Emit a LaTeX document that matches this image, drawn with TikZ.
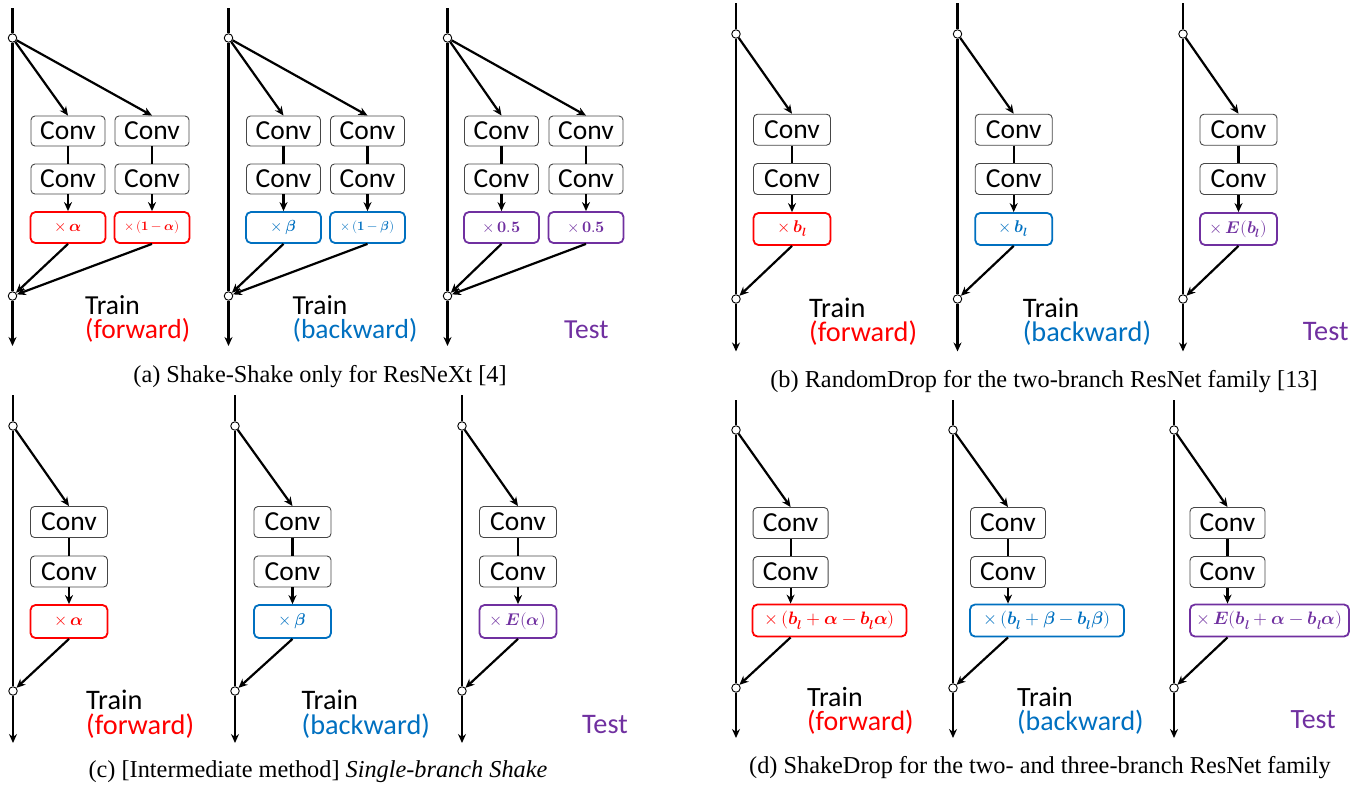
\documentclass[tikz,border=0pt]{standalone}
\usepackage{fontspec}
\usepackage{unicode-math}
\setmainfont{Liberation Serif}
\setmathfont{Latin Modern Math}
\newfontfamily\carlito{Carlito}
\usetikzlibrary{arrows.meta}
\definecolor{cred}{RGB}{255,0,0}
\definecolor{cblue}{RGB}{0,112,192}
\definecolor{cpurple}{RGB}{112,48,160}
\definecolor{cgray}{RGB}{70,70,70}
\newcommand{\myBl}{\symbfit{b}_{\symbfit{l}}}
\newcommand{\resline}[6]{%
  \node[junc] (#1in) at (#2,#4) {};
  \node[junc] (#1out) at (#2,#5) {};
  \coordinate (#1top) at (#2,#3);
  \coordinate (#1bot) at (#2,#6);
  \draw[mainln] (#1top) -- (#1in);
  \draw[mainln] (#1in) -- (#1out);
  \draw[mainln,arr] (#1out) -- (#1bot);
}
\newcommand{\branch}[9]{%
  \node[conv] (#1a) at (#2,#3) {Conv};
  \node[conv] (#1b) at (#2,#4) {Conv};
  \node[#7] (#1m) at (#5,#6) {#8};
  \draw[conn,arr] (#9in) -- (#1a.north);
  \draw[conn] (#1a) -- (#1b);
  \draw[conn,arr] (#1b) -- (#1b |- #1m.north);
  \draw[conn,arr] (#1b |- #1m.south) -- (#9out);
}
\tikzset{
  junc/.style={circle, draw, fill=white, line width=0.9pt, minimum size=8.5pt, inner sep=0pt},
  mainln/.style={line width=2.7pt},
  conn/.style={line width=2.2pt},
  arr/.style={-{Stealth[length=9pt,width=8pt]}},
  convsize/.style={minimum width=74pt, minimum height=30pt},
  conv/.style={draw=cgray, rounded corners=4pt, line width=0.9pt, inner sep=0pt, convsize, font=\carlito\fontsize{27.5}{29}\selectfont},
  multsize/.style={minimum width=75pt, minimum height=31pt},
  mult/.style={draw=#1, text=#1, rounded corners=5pt, line width=1.8pt, inner sep=0pt, multsize, font=\fontsize{16}{18}\selectfont},
  lbl/.style={anchor=base west, inner sep=0pt},
  captxt/.style={inner sep=0pt, font=\fontsize{24.3}{26}\selectfont}
}
\begin{document}
\begin{tikzpicture}[x=1pt,y=-1pt]
\useasboundingbox (0,0) rectangle (1365,788);

% ---------------- (a) ----------------
\resline{aA}{12.5}{8}{38}{296}{346}
\resline{aB}{228.5}{8}{38}{296}{346}
\resline{aC}{447.5}{8}{38}{296}{346}
\branch{aA1}{68}{131}{179}{68}{227.5}{mult=cred}{$\times\,\symbfit{\alpha}$}{aA}
\branch{aA2}{152}{131}{179}{152}{227.5}{mult=cred,font=\fontsize{13}{15}\selectfont}{$\times\,(\symbf{1}-\symbfit{\alpha})$}{aA}
\branch{aB1}{283.5}{131}{179}{283.5}{227.5}{mult=cblue}{$\times\,\symbfit{\beta}$}{aB}
\branch{aB2}{367.5}{131}{179}{367.5}{227.5}{mult=cblue,font=\fontsize{13}{15}\selectfont}{$\times\,(\symbf{1}-\symbfit{\beta})$}{aB}
\branch{aC1}{501.5}{131}{179}{501.5}{227.5}{mult=cpurple}{$\times\,\symbf{0.5}$}{aC}
\branch{aC2}{586}{131}{179}{586}{227.5}{mult=cpurple}{$\times\,\symbf{0.5}$}{aC}
\node[lbl, font=\carlito\fontsize{27.5}{29}\selectfont] (aAt) at (85,314) {Train};
\node[lbl, font=\carlito\fontsize{27.5}{29}\selectfont, text=cred] (aAf) at (85,338) {(forward)};
\node[lbl, font=\carlito\fontsize{27.5}{29}\selectfont] (aBt) at (292.5,314) {Train};
\node[lbl, font=\carlito\fontsize{27.5}{29}\selectfont, text=cblue] (aBf) at (292.5,338) {(backward)};
\node[lbl, font=\carlito\fontsize{27.5}{29}\selectfont, text=cpurple] (aCf) at (564,338) {Test};
\node[captxt] (capa) at (320,377) {(a) Shake-Shake only for ResNeXt [4]};

% ---------------- (b) ----------------
\begin{scope}[convsize/.style={minimum width=77pt, minimum height=31pt}, multsize/.style={minimum width=77pt, minimum height=32pt}]
\resline{bA}{736}{3}{34}{299}{351.5}
\resline{bB}{957.5}{3}{34}{299}{351.5}
\resline{bC}{1183}{3}{34}{299}{351.5}
\branch{bA1}{792}{129.7}{179}{792}{229}{mult=cred,font=\fontsize{17}{19}\selectfont}{$\times\,\myBl$}{bA}
\branch{bB1}{1013.7}{129.7}{179}{1013.7}{229}{mult=cblue,font=\fontsize{17}{19}\selectfont}{$\times\,\myBl$}{bB}
\branch{bC1}{1238.5}{129.7}{179}{1238.5}{229}{mult=cpurple,font=\fontsize{17}{19}\selectfont}{$\times\,\symbfit{E}(\myBl)$}{bC}
\end{scope}
\node[lbl, font=\carlito\fontsize{28.3}{30}\selectfont] (bAt) at (809,317.5) {Train};
\node[lbl, font=\carlito\fontsize{28.3}{30}\selectfont, text=cred] (bAf) at (809,341.5) {(forward)};
\node[lbl, font=\carlito\fontsize{28.3}{30}\selectfont] (bBt) at (1022.7,317.5) {Train};
\node[lbl, font=\carlito\fontsize{28.3}{30}\selectfont, text=cblue] (bBf) at (1022.7,341.5) {(backward)};
\node[lbl, font=\carlito\fontsize{28.3}{30}\selectfont, text=cpurple] (bCf) at (1302.7,340.5) {Test};
\node[captxt] (capb) at (1044,382) {(b) RandomDrop for the two-branch ResNet family [13]};

% ---------------- (c) ----------------
\begin{scope}[convsize/.style={minimum width=77pt, minimum height=31pt}, multsize/.style={minimum width=77pt, minimum height=33pt}]
\resline{cA}{13}{395}{426}{691}{743}
\resline{cB}{235}{395}{426}{691}{743}
\resline{cC}{462}{395}{426}{691}{743}
\branch{cA1}{69}{522}{571.5}{69}{621.5}{mult=cred,font=\fontsize{17}{19}\selectfont}{$\times\,\symbfit{\alpha}$}{cA}
\branch{cB1}{292.5}{522}{571.5}{292.5}{621.5}{mult=cblue,font=\fontsize{17}{19}\selectfont}{$\times\,\symbfit{\beta}$}{cB}
\branch{cC1}{518}{522}{571.5}{518}{621.5}{mult=cpurple,font=\fontsize{17}{19}\selectfont}{$\times\,\symbfit{E}(\symbfit{\alpha})$}{cC}
\end{scope}
\node[lbl, font=\carlito\fontsize{28.3}{30}\selectfont] (cAt) at (86,709) {Train};
\node[lbl, font=\carlito\fontsize{28.3}{30}\selectfont, text=cred] (cAf) at (86,734) {(forward)};
\node[lbl, font=\carlito\fontsize{28.3}{30}\selectfont] (cBt) at (301.5,709) {Train};
\node[lbl, font=\carlito\fontsize{28.3}{30}\selectfont, text=cblue] (cBf) at (301.5,734) {(backward)};
\node[lbl, font=\carlito\fontsize{28.3}{30}\selectfont, text=cpurple] (cCf) at (582,733) {Test};
\node[captxt] (capc) at (318,772) {(c) [Intermediate method] \textit{Single-branch Shake}};

% ---------------- (d) ----------------
\begin{scope}[convsize/.style={minimum width=75pt, minimum height=31pt}, multsize/.style={minimum width=77pt, minimum height=32pt}]
\resline{dA}{736}{400}{430}{688}{738}
\resline{dB}{953}{400}{430}{688}{738}
\resline{dC}{1174}{400}{430}{688}{738}
\branch{dA1}{790.6}{523}{572}{829.5}{620.5}{mult=cred,minimum width=154pt,font=\fontsize{18}{20}\selectfont}{$\times\,(\myBl+\symbfit{\alpha}\symbf{-}\myBl\symbfit{\alpha})$}{dA}
\branch{dB1}{1008}{523}{572}{1047}{620.5}{mult=cblue,minimum width=154pt,font=\fontsize{18}{20}\selectfont}{$\times\,(\myBl+\symbfit{\beta}\symbf{-}\myBl\symbfit{\beta})$}{dB}
\branch{dC1}{1227.5}{523}{572}{1269.5}{620.5}{mult=cpurple,minimum width=159pt,font=\fontsize{18}{20}\selectfont}{$\times\,\symbfit{E}(\myBl+\symbfit{\alpha}\symbf{-}\myBl\symbfit{\alpha})$}{dC}
\end{scope}
\node[lbl, font=\carlito\fontsize{27.9}{30}\selectfont] (dAt) at (807,706) {Train};
\node[lbl, font=\carlito\fontsize{27.9}{30}\selectfont, text=cred] (dAf) at (807,730) {(forward)};
\node[lbl, font=\carlito\fontsize{27.9}{30}\selectfont] (dBt) at (1017,706) {Train};
\node[lbl, font=\carlito\fontsize{27.9}{30}\selectfont, text=cblue] (dBf) at (1017,730) {(backward)};
\node[lbl, font=\carlito\fontsize{27.9}{30}\selectfont, text=cpurple] (dCf) at (1290.5,728) {Test};
\node[captxt] (capd) at (1040,768) {(d) ShakeDrop for the two- and three-branch ResNet family};
\end{tikzpicture}
\end{document}
